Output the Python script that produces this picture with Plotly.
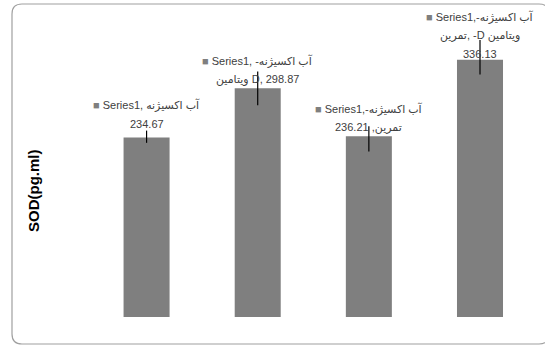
import plotly.graph_objects as go

categories = ["آب اکسیژنه", "آب اکسیژنه- ویتامین D", "آب اکسیژنه- تمرین", "آب اکسیژنه- تمرین- ویتامین D"]
values = [234.67, 298.87, 236.21, 336.13]
err_plus = [9, 22, 13, 26]
err_minus = [7, 22, 20, 19]
series_name = "Series1"
y_title = "SOD(pg.ml)"
LRM, RLM = "\u200e", "\u200f"
label_lines = [
    [f"{series_name}, آب اکسیژنه", f"{values[0]:.2f}"],
    [f"{series_name}, آب اکسیژنه-" + RLM, f"ویتامین D, {values[1]:.2f}"],
    [f"{series_name},آب اکسیژنه-" + RLM, f"تمرین, {values[2]:.2f}"],
    [f"{series_name},آب اکسیژنه-" + RLM, "تمرین, -D ویتامین", f"{values[3]:.2f}"],
]
label_shift = [5, 0, 0, -2]

W, H = 545, 345
ml, mr, mt, mb = 91, 9, 11, 28
pw, ph = W - ml - mr, H - mt - mb

fig = go.Figure()
fig.add_trace(go.Bar(
    x=categories, y=values, name=series_name,
    marker=dict(color="#7f7f7f", line=dict(width=0)),
    error_y=dict(type="data", symmetric=False, array=err_plus, arrayminus=err_minus,
                 color="#000000", thickness=1.2, width=0),
    showlegend=False, hoverinfo="skip",
))

font_fam = "Liberation Sans, DejaVu Sans, sans-serif"
annotations = []
for cat, v, lines, sh in zip(categories, values, label_lines, label_shift):
    n = len(lines)
    for j, line in enumerate(lines):
        txt = LRM + line
        if j == 0:
            txt = "<span style='color:#7f7f7f'>■</span> " + line
        annotations.append(dict(
            x=cat, y=v, xref="x", yref="y", text=txt, showarrow=False,
            yanchor="bottom", xanchor="center",
            yshift=sh + (n - 1 - j) * 18,
            font=dict(family=font_fam, size=11, color="#404040"),
        ))

annotations.append(dict(
    x=(33 - ml) / pw, y=(mt + ph - 191) / ph, xref="paper", yref="paper",
    text="<b>" + y_title + "</b>", textangle=-90, showarrow=False,
    xanchor="center", yanchor="middle",
    font=dict(family="Liberation Sans, sans-serif", size=15, color="#000000"),
))

def px(xp):
    return (xp - ml) / pw

def py(yp):
    return (mt + ph - yp) / ph

L, T, R, B, r = 12, 4, 549, 344, 10
path = (f"M {px(L)},{py(B - r)} L {px(L)},{py(T + r)} Q {px(L)},{py(T)} {px(L + r)},{py(T)} "
        f"L {px(R - r)},{py(T)} Q {px(R)},{py(T)} {px(R)},{py(T + r)} "
        f"L {px(R)},{py(B - r)} Q {px(R)},{py(B)} {px(R - r)},{py(B)} "
        f"L {px(L + r)},{py(B)} Q {px(L)},{py(B)} {px(L)},{py(B - r)} Z")

fig.update_layout(
    width=W, height=H,
    margin=dict(l=ml, r=mr, t=mt, b=mb),
    paper_bgcolor="white", plot_bgcolor="white",
    bargap=0.586,
    xaxis=dict(showticklabels=False, showgrid=False, zeroline=False, showline=False, ticks=""),
    yaxis=dict(range=[0, 400], showticklabels=False, showgrid=False, zeroline=False,
               showline=False, ticks=""),
    annotations=annotations,
    shapes=[dict(type="path", path=path, xref="paper", yref="paper",
                 line=dict(color="#a0a0a0", width=1.2), fillcolor="rgba(0,0,0,0)", layer="below")],
)

fig.write_html("out.html")
